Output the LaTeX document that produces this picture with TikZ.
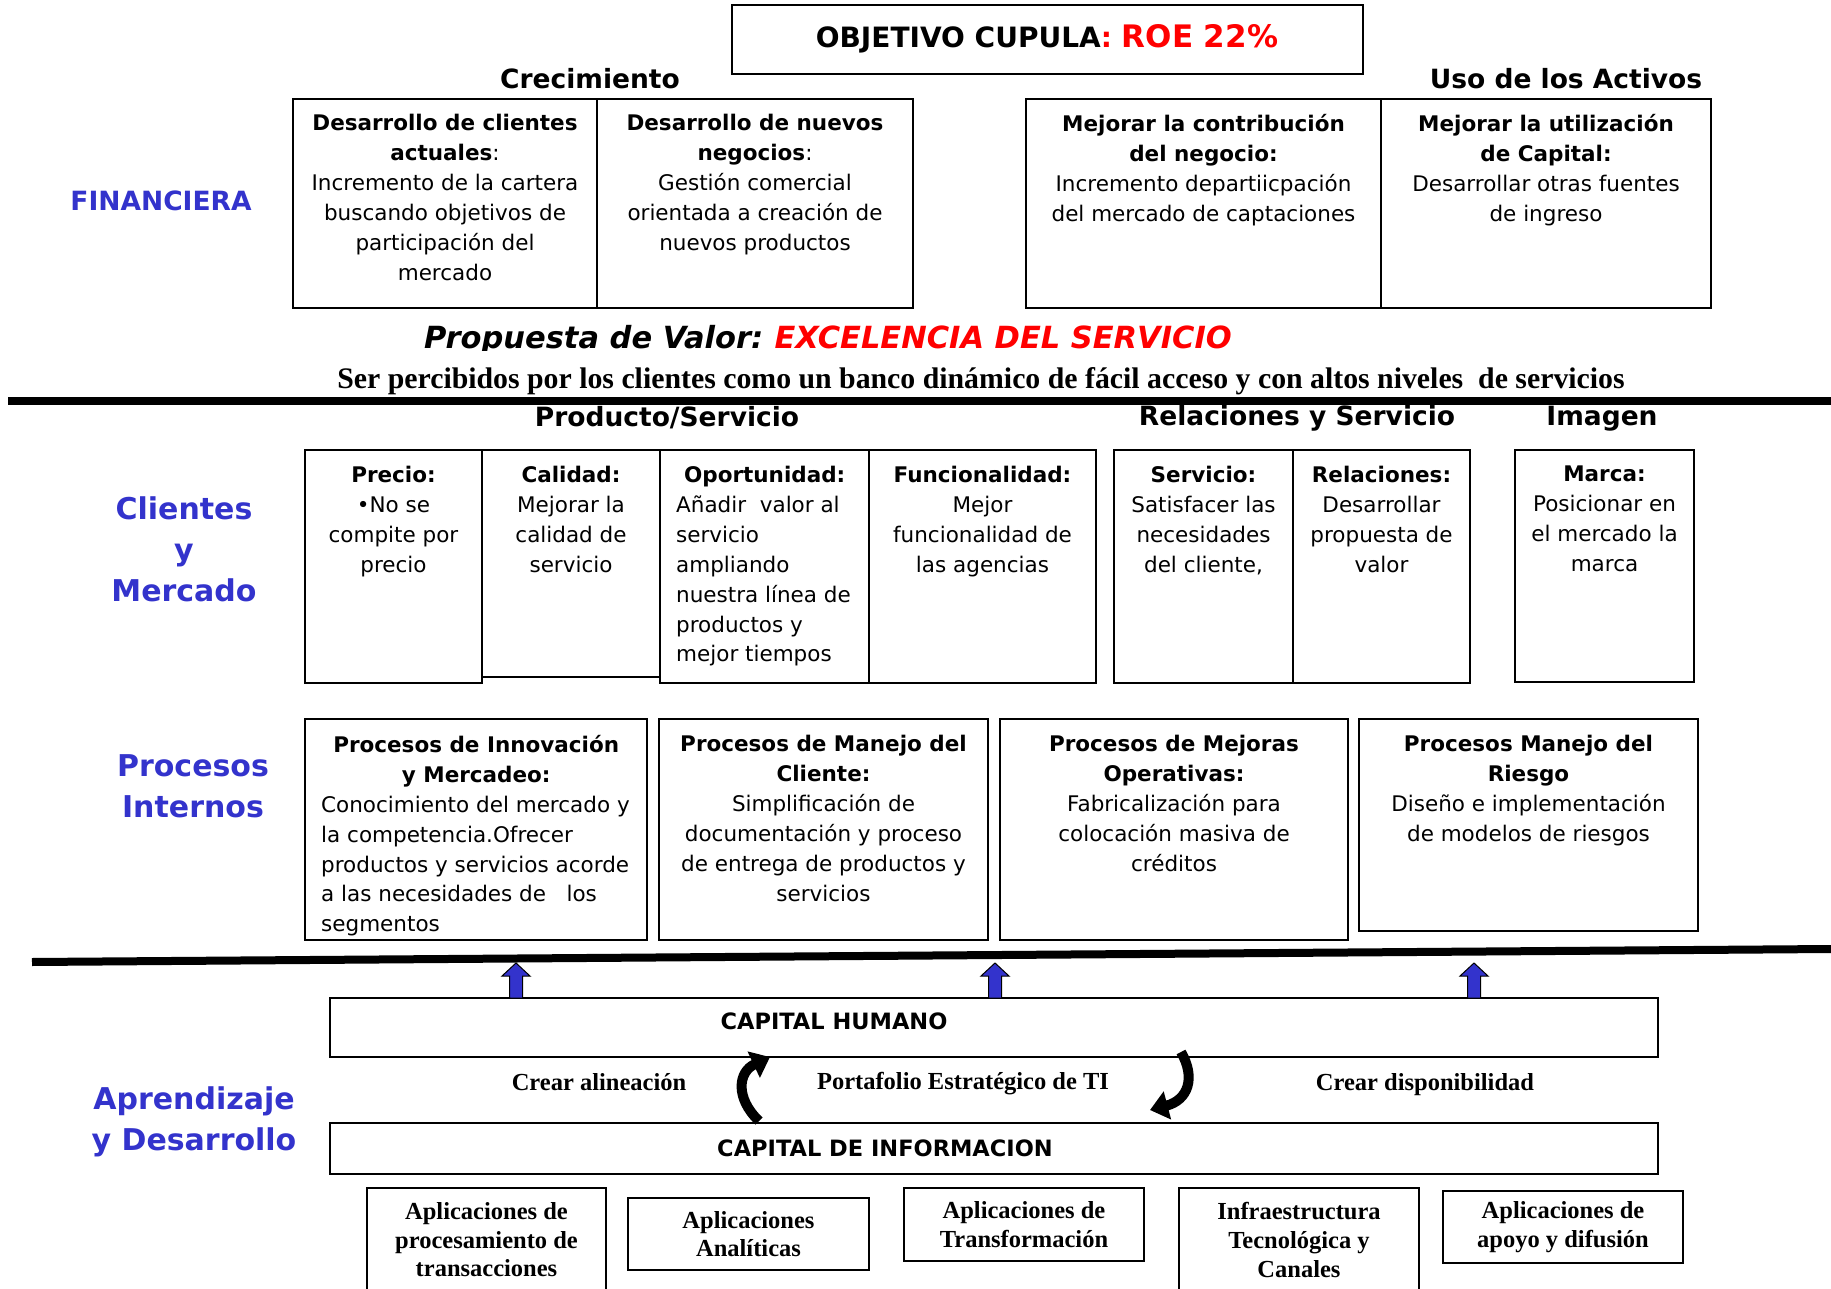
\documentclass[tikz,border=0pt]{standalone}
\usepackage{fontspec}
\setmainfont{DejaVu Sans}
\newfontfamily\tms{Liberation Serif}
\usetikzlibrary{arrows.meta}

\definecolor{persp}{RGB}{51,51,204}
\definecolor{roe}{RGB}{255,0,0}

\begin{document}
\begin{tikzpicture}[x=1pt, y=-1pt,
  cell/.style={draw, line width=1.6pt, inner sep=0pt},
  body/.style={anchor=north, align=center, inner sep=0pt, font=\fontsize{21.5}{29.9}\selectfont},
  lbody/.style={body, anchor=north west, align=left},
  head/.style={inner sep=0pt, font=\bfseries\fontsize{26.5}{30}\selectfont},
  side/.style={inner sep=0pt, align=center, text=persp, font=\bfseries\fontsize{30}{41}\selectfont},
  serif/.style={anchor=base, inner sep=0pt, font=\tms\bfseries\fontsize{24.5}{28.6}\selectfont},
  app/.style={cell, line width=1.4pt, align=center, font=\tms\bfseries\fontsize{24.5}{28.6}\selectfont},
  band/.style={cell, line width=2pt},
  rule/.style={line width=8pt},
  turn/.style={line width=10pt, -{Triangle[width=28pt,length=18pt]}},
  upar/.style={fill=persp, draw=black, line width=1pt}
]
\useasboundingbox (0,0) rectangle (1831,1289);

% Objetivo
\node[cell, minimum width=631pt, minimum height=69pt] (obj) at (1047.5,39.5) {};
\node[inner sep=0pt, font=\bfseries\fontsize{28}{32}\selectfont] (objt) at (1047,39)
  {OBJETIVO CUPULA\textcolor{roe}{: \fontsize{31}{32}\selectfont ROE 22\%}};

% Financiera
\node[side, font=\bfseries\fontsize{26.5}{30}\selectfont] (fin) at (161,201) {FINANCIERA};
\node[head] (crec) at (590,79) {Crecimiento};
\node[head] (uso) at (1566,79) {Uso de los Activos};

\node[cell, minimum width=304pt, minimum height=209pt] (fA) at (445,203.5) {};
\node[cell, minimum width=316pt, minimum height=209pt] (fB) at (755,203.5) {};
\node[cell, minimum width=355pt, minimum height=209pt] (fC) at (1203.5,203.5) {};
\node[cell, minimum width=330pt, minimum height=209pt] (fD) at (1546,203.5) {};

\node[body] (fAt) at (445,114) {\textbf{Desarrollo de clientes}\\\textbf{actuales}:\\Incremento de la cartera\\buscando objetivos de\\participación del\\mercado};
\node[body] (fBt) at (755,114) {\textbf{Desarrollo de nuevos}\\\textbf{negocios}:\\Gestión comercial\\orientada a creación de\\nuevos productos};
\node[body] (fCt) at (1203.5,114) {\textbf{Mejorar la contribución}\\\textbf{del negocio:}\\Incremento departiicpación\\del mercado de captaciones};
\node[body] (fDt) at (1546,114) {\textbf{Mejorar la utilización}\\\textbf{de Capital:}\\Desarrollar otras fuentes\\de ingreso};

% Propuesta de valor
\begin{scope}
  \clip (0,0) rectangle (1831,350);
  \node[anchor=base, inner sep=0pt, font=\bfseries\itshape\fontsize{30.5}{34}\selectfont] (prop) at (828,348)
    {Propuesta de Valor:\hspace{-3pt} \textcolor{roe}{EXCELENCIA DEL SERVICIO}};
\end{scope}
\node[inner sep=0pt, font=\tms\bfseries\fontsize{29.8}{32}\selectfont] (ser) at (981,381.5)
  {Ser percibidos por los clientes como un banco dinámico de fácil acceso y con altos niveles~~de servicios};

\draw[rule] (8,401) -- (1831,401);

% Clientes y mercado
\node[side] (cli) at (184,549) {Clientes\\y\\Mercado};
\node[head] (prod) at (667,418) {Producto/Servicio};
\node[head] (rela) at (1297,418) {Relaciones y Servicio};
\node[head] (imag) at (1602,419) {Imagen};

\node[cell, minimum width=177pt, minimum height=233pt] (cPre) at (393.5,566.5) {};
\node[cell, minimum width=178pt, minimum height=227pt] (cCal) at (571,563.5) {};
\node[cell, minimum width=209pt, minimum height=233pt] (cOpo) at (764.5,566.5) {};
\node[cell, minimum width=227pt, minimum height=233pt] (cFun) at (982.5,566.5) {};
\node[cell, minimum width=179pt, minimum height=233pt] (cSer) at (1203.5,566.5) {};
\node[cell, minimum width=177pt, minimum height=233pt] (cRel) at (1381.5,566.5) {};
\node[cell, minimum width=179pt, minimum height=232pt] (cMar) at (1604.5,566) {};

\node[body] (cPret) at (393.5,466) {\textbf{Precio:}\\•No se\\compite por\\precio};
\node[body] (cCalt) at (571,466) {\textbf{Calidad:}\\Mejorar la\\calidad de\\servicio};
\node[lbody] (cOpot) at (676,466) {\makebox[177pt]{\bfseries Oportunidad:}\\Añadir~~valor al\\servicio\\ampliando\\nuestra línea de\\productos y\\mejor tiempos};
\node[body] (cFunt) at (982.5,466) {\textbf{Funcionalidad:}\\Mejor\\funcionalidad de\\las agencias};
\node[body] (cSert) at (1203.5,466) {\textbf{Servicio:}\\Satisfacer las\\necesidades\\del cliente,};
\node[body] (cRelt) at (1381.5,466) {\textbf{Relaciones:}\\Desarrollar\\propuesta de\\valor};
\node[body] (cMart) at (1604.5,466) {\textbf{Marca:}\\Posicionar en\\el mercado la\\marca};

% Procesos internos
\node[side] (pro) at (193,786) {Procesos\\Internos};

\node[cell, minimum width=342pt, minimum height=221pt] (pInn) at (476,829.5) {};
\node[cell, minimum width=329pt, minimum height=221pt] (pCli) at (823.5,829.5) {};
\node[cell, minimum width=348pt, minimum height=221pt] (pOpe) at (1174,829.5) {};
\node[cell, minimum width=339pt, minimum height=212pt] (pRie) at (1528.5,825) {};

\begin{scope}
  \clip (pInn.north west) rectangle (pInn.south east);
  \node[lbody] (pInnt) at (321,735) {\makebox[310pt]{\bfseries Procesos de Innovación}\\\makebox[310pt]{\bfseries y Mercadeo:}\\Conocimiento del mercado y\\la competencia.Ofrecer\\productos y servicios acorde\\a las necesidades de~~~los\\segmentos};
\end{scope}
\node[body] (pClit) at (823.5,735) {\textbf{Procesos de Manejo del}\\\textbf{Cliente:}\\Simplificación de\\documentación y proceso\\de entrega de productos y\\servicios};
\node[body] (pOpet) at (1174,735) {\textbf{Procesos de Mejoras}\\\textbf{Operativas:}\\Fabricalización para\\colocación masiva de\\créditos};
\node[body] (pRiet) at (1528.5,735) {\textbf{Procesos Manejo del}\\\textbf{Riesgo}\\Diseño e implementación\\de modelos de riesgos};

\draw[rule] (32,962) -- (1831,949);

% Aprendizaje y desarrollo
\node[side] (apr) at (194,1122) {Aprendizaje\\y Desarrollo};

\node[band, minimum width=1328pt, minimum height=59pt] (hum) at (994,1027.5) {};
\node[inner sep=0pt, font=\bfseries\fontsize{22.5}{26}\selectfont] (humt) at (834,1021) {CAPITAL HUMANO};
\node[band, minimum width=1328pt, minimum height=51pt] (inf) at (994,1148.5) {};
\node[inner sep=0pt, font=\bfseries\fontsize{22.5}{26}\selectfont] (inft) at (885,1148) {CAPITAL DE INFORMACION};

\foreach \x in {516,995,1474}
  \draw[upar] (\x-6.5,998) -- (\x-6.5,976) -- (\x-14,976) -- (\x,963) -- (\x+14,976) -- (\x+6.5,976) -- (\x+6.5,998) -- cycle;

\node[serif] (ali) at (599,1090) {Crear alineación};
\node[serif] (port) at (963,1089) {Portafolio Estratégico de TI};
\node[serif] (disp) at (1425,1090) {Crear disponibilidad};

\draw[turn] (759,1121) .. controls (735,1098) and (738,1072) .. (770,1057);
\draw[turn] (1181,1052) .. controls (1196,1078) and (1188,1100) .. (1150,1110);

\node[app, minimum width=239pt, minimum height=104pt] (a1) at (486.5,1240) {Aplicaciones de\\procesamiento de\\transacciones};
\node[app, minimum width=241pt, minimum height=72pt] (a2) at (748.5,1234) {Aplicaciones\\Analíticas};
\node[app, minimum width=240pt, minimum height=73pt] (a3) at (1024,1224.5) {Aplicaciones de\\Transformación};
\node[app, minimum width=240pt, minimum height=104pt] (a4) at (1299,1240) {Infraestructura\\Tecnológica y\\Canales};
\node[app, minimum width=240pt, minimum height=72pt] (a5) at (1563,1227) {Aplicaciones de\\apoyo y difusión};

\end{tikzpicture}
\end{document}
